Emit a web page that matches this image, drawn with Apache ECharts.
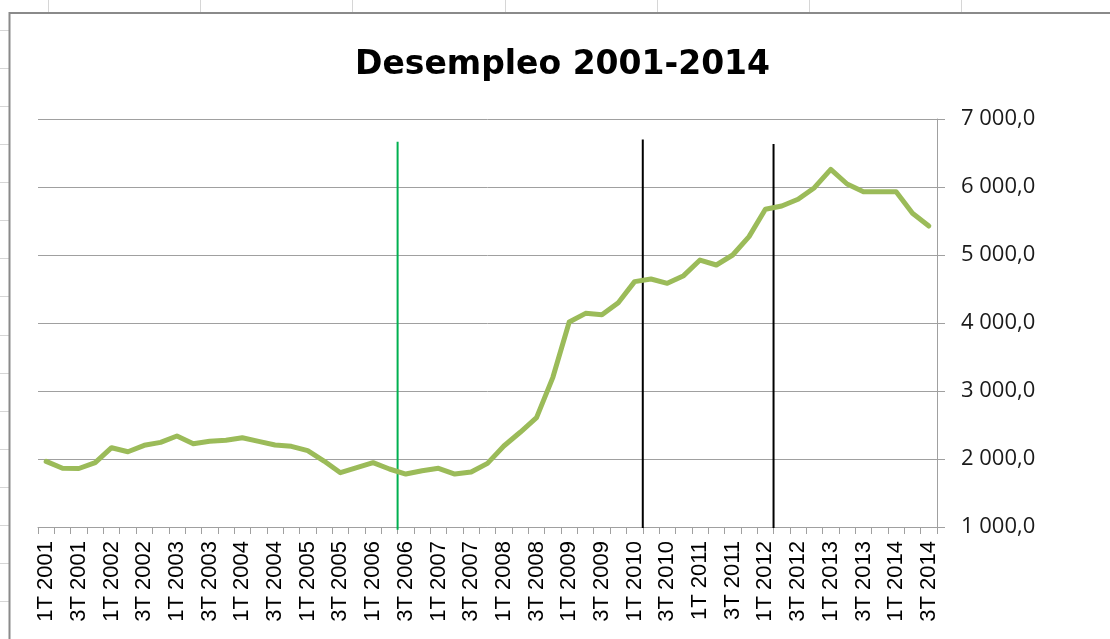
<!DOCTYPE html>
<html>
<head>
<meta charset="utf-8">
<script src="https://cdn.jsdelivr.net/npm/echarts@6/dist/echarts.min.js"></script>
<style>
html,body{margin:0;padding:0;background:#fff;}
#chart{width:1110px;height:639px;}
</style>
</head>
<body>
<div id="chart"></div>
<script>
// ---- data ----
const years = [2001,2002,2003,2004,2005,2006,2007,2008,2009,2010,2011,2012,2013,2014];
const quarterNames = ['1T','2T','3T','4T'];
const categories = [];
years.forEach(y => quarterNames.forEach(q => categories.push(q + ' ' + y)));
categories.length = 55; // 1T 2001 ... 3T 2014

const desempleo = [
  1965, 1863, 1860, 1946, 2166, 2107, 2201, 2245, 2338, 2225,
  2260, 2275, 2313, 2260, 2206, 2186, 2122, 1970, 1799, 1872,
  1946, 1853, 1779, 1828, 1863, 1779, 1809, 1936, 2191, 2393,
  2608, 3201, 4015, 4142, 4122, 4299, 4608, 4647, 4583, 4696,
  4926, 4853, 5000, 5270, 5672, 5721, 5819, 5990, 6260, 6044,
  5931, 5931, 5931, 5613, 5426
];

// vertical marker lines: position in category-band units (boundary index), bottom/top values
const markerPos = [22, 37, 45];
const markerTop = [6666, 6700, 6632];
const markerBottom = [958, 985, 985];
const markerColors = ['#00b050', '#000000', '#000000'];

// ---- chart ----
const chart = echarts.init(document.getElementById('chart'), null, {renderer: 'canvas'});

const graphics = [];
// spreadsheet background lines
[48, 200, 352, 505, 657, 809, 961].forEach(x => {
  graphics.push({type:'line', z:-20, silent:true, shape:{x1:x+0.5, y1:0, x2:x+0.5, y2:12}, style:{stroke:'#d6d6d6', lineWidth:1}});
});
for (let k = 0; k < 17; k++) {
  const y = Math.round(29.7 + 38.1 * k) + 0.5;
  graphics.push({type:'line', z:-20, silent:true, shape:{x1:0, y1:y, x2:9, y2:y}, style:{stroke:'#d6d6d6', lineWidth:1}});
}
// chart frame
graphics.push({type:'rect', z:-10, silent:true, shape:{x:9.5, y:13, width:1200, height:700}, style:{fill:'#ffffff', stroke:'#8a8a8a', lineWidth:2}});

const markerSeries = markerPos.map((p, i) => ({
  type: 'line',
  xAxisIndex: 1,
  yAxisIndex: 0,
  data: [[p, markerBottom[i]], [p, markerTop[i]]],
  symbol: 'none',
  clip: false,
  silent: true,
  z: 3,
  lineStyle: {color: markerColors[i], width: 2}
}));

const option = {
  backgroundColor: 'transparent',
  animation: false,
  graphic: graphics,
  title: {
    text: 'Desempleo 2001-2014',
    left: 355,
    top: 49,
    padding: 0,
    textStyle: {fontFamily: 'DejaVu Sans', fontWeight: 'bold', fontSize: 33, color: '#000'}
  },
  grid: {left: 38, right: 173, top: 119, bottom: 112, containLabel: false},
  xAxis: [
    {
      type: 'category',
      data: categories,
      boundaryGap: true,
      axisLine: {show: true, onZero: false, lineStyle: {color: '#a0a0a0', width: 1}},
      axisTick: {show: true, interval: 0, length: 7, lineStyle: {color: '#a0a0a0'}},
      axisLabel: {
        interval: 1,
        rotate: 90,
        margin: 14,
        fontFamily: 'Liberation Sans',
        fontSize: 22,
        color: '#000'
      },
      splitLine: {show: false}
    },
    {
      type: 'value',
      min: 0,
      max: 55,
      show: false,
      axisLine: {show: false, onZero: false},
      splitLine: {show: false}
    }
  ],
  yAxis: {
    type: 'value',
    position: 'right',
    min: 1000,
    max: 7000,
    interval: 1000,
    axisLine: {show: true, onZero: false, lineStyle: {color: '#a0a0a0', width: 1}},
    axisTick: {show: true, length: 8, lineStyle: {color: '#a0a0a0'}},
    axisLabel: {
      margin: 24,
      fontFamily: 'Open Sans',
      fontSize: 22,
      color: '#1a1a1a',
      formatter: v => {
        const s = String(Math.round(v));
        const grouped = s.replace(/\B(?=(\d{3})+(?!\d))/g, ' ');
        return grouped + ',0';
      }
    },
    splitLine: {show: true, lineStyle: {color: '#a0a0a0', width: 1}}
  },
  series: [
    {
      type: 'line',
      name: 'Desempleo',
      data: desempleo,
      xAxisIndex: 0,
      symbol: 'none',
      z: 4,
      lineStyle: {color: '#9bbb59', width: 5, join: 'round', cap: 'round'}
    }
  ].concat(markerSeries)
};

chart.setOption(option);
</script>
</body>
</html>
